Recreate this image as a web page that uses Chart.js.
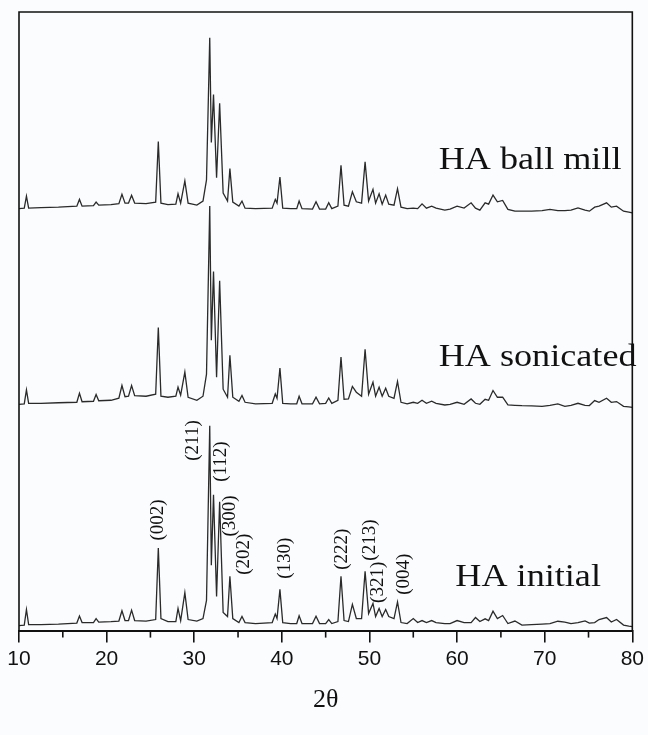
<!DOCTYPE html>
<html>
<head>
<meta charset="utf-8">
<script src="https://cdn.jsdelivr.net/npm/chart.js@4.4.1/dist/chart.umd.min.js"></script>
<style>
    html, body { margin: 0; padding: 0; background: #fafcfe; }
    #wrap { width: 648px; height: 735px; position: relative; }
</style>
</head>
<body>
<div id="wrap"><canvas id="xrd"></canvas></div>
<script>
// 2-theta positions (degrees)
const twoTheta = [
    10.0, 10.6, 10.85, 11.1, 12.5, 14.5, 16.6, 16.9, 17.2, 18.5,
    18.8, 19.1, 20.5, 21.4, 21.75, 22.1, 22.5, 22.85, 23.2, 24.5,
    25.6, 25.9, 26.2, 27.0, 27.9, 28.15, 28.45, 28.93, 29.3, 30.3,
    31.0, 31.4, 31.77, 31.95, 32.2, 32.55, 32.9, 33.3, 33.8, 34.07,
    34.4, 35.1, 35.45, 35.8, 37.0, 38.9, 39.25, 39.45, 39.78, 40.1,
    41.0, 41.7, 41.97, 42.3, 43.5, 43.9, 44.3, 45.0, 45.35, 45.7,
    46.4, 46.75, 47.1, 47.6, 48.05, 48.5, 49.1, 49.5, 49.9, 50.4,
    50.7, 51.1, 51.45, 51.85, 52.2, 52.8, 53.2, 53.6,
    54.3, 55.0, 55.5, 56.0, 56.5, 57.1, 57.6, 58.6, 59.2, 60.0,
    60.8, 61.6, 62.1, 62.6, 63.2, 63.6, 64.1, 64.6, 65.2, 65.8,
    66.6, 67.4, 68.5, 69.7, 70.6, 71.5, 72.3, 73.0, 73.8, 74.6,
    75.1, 75.7, 76.2, 77.06, 77.6, 78.2, 79.0, 79.6, 80.0
];

// intensities (arbitrary units) for each sample
const haInitial = [
    5, 5.5, 21, 6, 6, 6.5, 7.5, 14.5, 8, 8,
    12, 8.5, 9, 9.5, 19.7, 10, 10, 20.3, 10, 9.5,
    11, 82, 12, 9, 9, 22, 10, 37.7, 11, 9.5,
    12, 30, 203.7, 65, 135, 34, 128, 18, 14, 54,
    12, 8, 14, 8, 7, 8, 16.5, 12, 41, 8,
    7, 7, 14.7, 7, 7, 14.3, 7, 7, 11, 7,
    9, 54, 10, 9, 26, 12, 12, 59, 17, 27,
    14, 22, 14, 21, 14, 12, 28.5, 8,
    7, 12, 8, 10, 8, 10, 8, 7, 7, 10,
    8, 8, 13, 9, 11.7, 10, 19.3, 12, 15, 7,
    9.5, 5.5, 6, 6.5, 7, 9.3, 8.5, 7, 8, 9.7,
    7.5, 8, 11, 13, 8.5, 11, 5.5, 4.5, 4
];

const haSonicated = [
    10, 10.5, 24.3, 11, 11, 11.5, 12, 21, 12.5, 13,
    19.7, 13.5, 14, 16, 28.7, 17.5, 18, 28.7, 18.5, 18,
    20, 86.3, 18, 17, 18, 27, 19, 42, 17, 14,
    18, 40, 207, 73.7, 142, 37, 132.7, 25, 17, 58.7,
    17, 13, 18.7, 12, 10.5, 11, 20.3, 16, 46, 11,
    10.5, 10.5, 18, 10.5, 10.5, 17, 10.5, 11, 16.3, 11,
    14, 57, 15, 15.3, 27.7, 22, 18, 64.7, 20, 32,
    18, 27, 18, 26, 18, 16, 32.7, 12,
    10.5, 12, 11, 14, 11, 13, 11, 9.3, 10, 12,
    10, 15.3, 11, 10, 15, 14, 23.7, 17, 17, 9.3,
    9, 8.7, 8.5, 8, 9, 10.3, 8, 9, 11, 9,
    8.7, 13.7, 12, 16, 12, 12.7, 8, 7.5, 7
];

const haBallMill = [
    9.5, 10, 22, 10, 10.5, 11, 12, 18.7, 12, 12.5,
    16, 13, 13.5, 14.5, 23.7, 15, 15, 22.7, 15, 14.5,
    16, 76.3, 15, 13.5, 14, 24.3, 15, 37, 15, 13,
    17, 38, 179.3, 75.3, 123, 40.3, 114.3, 25, 17, 49.3,
    16, 12, 17, 10, 9.5, 10, 18.7, 15, 41, 10,
    9.5, 9.5, 17, 9.5, 9, 16.3, 9, 9, 15.3, 9.5,
    12, 52.7, 13, 12, 26.3, 16.3, 15, 56, 17, 28.7,
    15, 24.3, 14, 23, 14, 13, 29.3, 11,
    9.5, 10, 9.5, 14.3, 10, 12, 10, 8, 9, 12,
    10, 15.3, 10, 8, 15.3, 14, 23, 16.3, 17.7, 8.7,
    7, 7, 7, 7.5, 8.7, 7.5, 7.5, 8, 10.3, 8,
    7, 11, 12, 15.3, 11, 12, 7, 6, 5.3
];

const sampleNames = ["HA initial", "HA sonicated", "HA ball mill"];
const traceOffsets = [0, 215, 410];

// Miller indices of the main reflections
const hklLabels = ["(002)", "(211)", "(112)", "(300)", "(202)", "(130)", "(222)", "(213)", "(321)", "(004)"];

const xTicks = [10, 20, 30, 40, 50, 60, 70, 80];

function toPoints(values, offset)
{
    return twoTheta.map((t, i) => ({ x: t, y: values[i] + offset }));
}

// where the text sits, in axis units (2theta, intensity)
const hklAnchors = [
    [25.89, 110], [29.87, 189], [33.06, 168], [34.09, 114], [35.64, 76],
    [40.31, 72], [46.92, 81], [50.05, 90], [51.0, 48], [53.9, 56]
];
const nameAnchors = [[59.8, 44], [57.9, 263], [57.9, 459]];

const decorations = {
    id: 'decorations',
    afterDraw(chart)
    {
        const ctx = chart.ctx;
        const area = chart.chartArea;
        const xs = chart.scales.x;
        const ys = chart.scales.y;

        ctx.save();
        // frame
        ctx.strokeStyle = '#111';
        ctx.lineWidth = 1.6;
        ctx.beginPath();
        ctx.moveTo(area.left, area.bottom);
        ctx.lineTo(area.left, area.top);
        ctx.lineTo(area.right, area.top);
        ctx.lineTo(area.right, area.bottom);
        ctx.stroke();

        // minor ticks
        for (let v = 15; v < 80; v += 10)
        {
            const px = xs.getPixelForValue(v);
            ctx.beginPath();
            ctx.moveTo(px, area.bottom);
            ctx.lineTo(px, area.bottom + 7);
            ctx.stroke();
        }

        // hkl labels, rotated
        ctx.fillStyle = '#111';
        ctx.font = '19px "Liberation Serif", "Times New Roman", serif';
        ctx.textAlign = 'center';
        ctx.textBaseline = 'middle';
        hklLabels.forEach((label, i) =>
        {
            const px = xs.getPixelForValue(hklAnchors[i][0]);
            const py = ys.getPixelForValue(hklAnchors[i][1]);
            ctx.save();
            ctx.translate(px, py);
            ctx.rotate(-Math.PI / 2);
            ctx.fillText(label, 0, 0);
            ctx.restore();
        });

        // sample names (the source lettering is a bit wide)
        ctx.font = '32px "Liberation Serif", "Times New Roman", serif';
        ctx.textAlign = 'left';
        ctx.textBaseline = 'alphabetic';
        sampleNames.forEach((name, i) =>
        {
            ctx.save();
            ctx.translate(xs.getPixelForValue(nameAnchors[i][0]), ys.getPixelForValue(nameAnchors[i][1]));
            ctx.scale(1.13, 1);
            ctx.fillText(name, 0, 0);
            ctx.restore();
        });
        ctx.restore();
    }
};

const ctx = document.getElementById('xrd').getContext('2d');
const chart = new Chart(ctx, {
    type: 'line',
    data: {
        datasets: [haInitial, haSonicated, haBallMill].map((vals, i) => ({
            label: sampleNames[i],
            data: toPoints(vals, traceOffsets[i]),
            borderColor: '#2a2a2a',
            borderWidth: 1.3,
            pointRadius: 0,
            tension: 0,
            fill: false
        }))
    },
    options: {
        responsive: true,
        maintainAspectRatio: false,
        animation: false,
        layout: { padding: { left: 19, right: 14, top: 12, bottom: 19 } },
        plugins: {
            legend: { display: false },
            tooltip: { enabled: false }
        },
        scales: {
            x: {
                type: 'linear',
                min: 10,
                max: 80,
                afterBuildTicks: (axis) => { axis.ticks = xTicks.map(v => ({ value: v })); },
                ticks: {
                    color: '#111',
                    padding: 4,
                    maxRotation: 0,
                    font: { family: '"Liberation Sans", Arial, sans-serif', size: 21 }
                },
                grid: {
                    drawOnChartArea: false,
                    drawTicks: true,
                    tickLength: 12,
                    color: '#111',
                    lineWidth: 1.6
                },
                border: { color: '#111', width: 2 },
                title: {
                    display: true,
                    text: '2θ',
                    color: '#111',
                    padding: { top: 9, bottom: 0 },
                    font: { family: '"Liberation Serif", "Times New Roman", serif', size: 26 }
                }
            },
            y: {
                display: false,
                min: 0,
                max: 615
            }
        }
    },
    plugins: [decorations]
});
</script>
</body>
</html>
